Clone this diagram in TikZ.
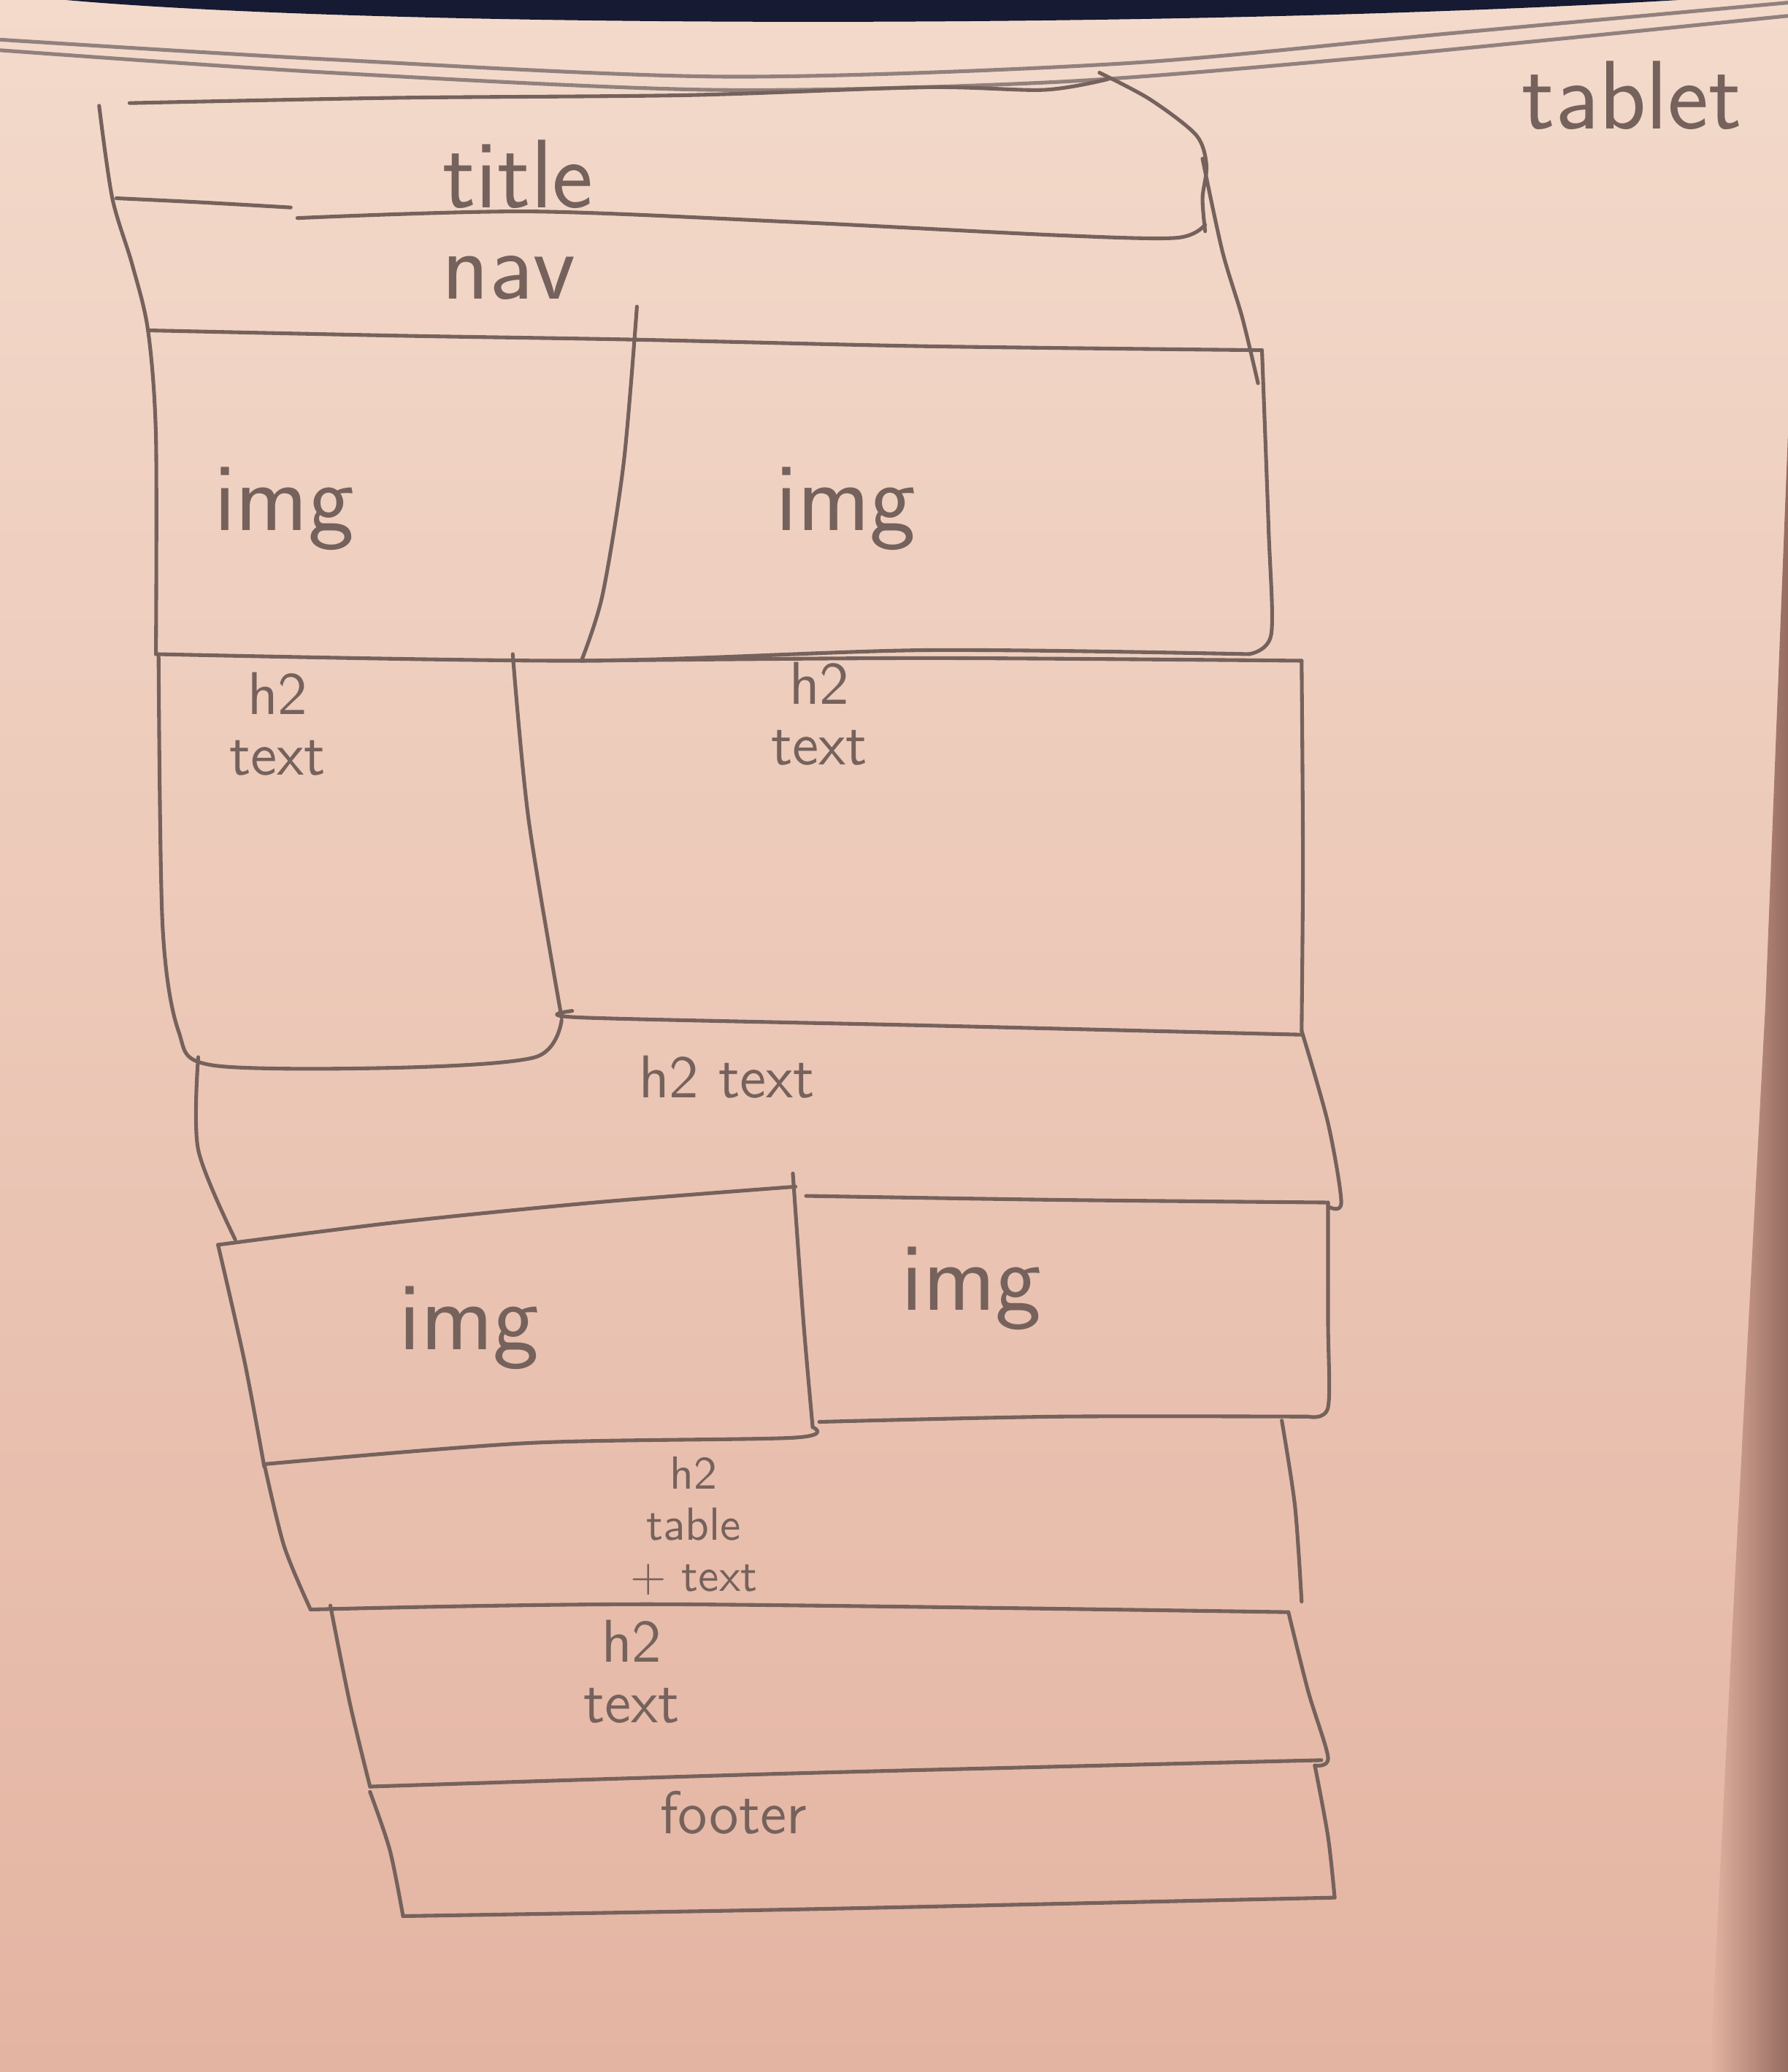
\documentclass[tikz,border=0pt]{standalone}
\usetikzlibrary{calc}
\definecolor{paperlight}{RGB}{243,218,203}
\definecolor{paperdark}{RGB}{228,180,162}
\definecolor{pencilgrey}{RGB}{118,98,92}
\definecolor{nightblue}{RGB}{22,26,50}
\definecolor{pageshadow}{RGB}{150,108,96}
\tikzstyle{pencil}=[draw=pencilgrey,line width=0.8pt,line cap=round,line join=round]
\tikzstyle{pagefold}=[draw=pencilgrey!80,line width=0.8pt]
\tikzstyle{scribble}=[text=pencilgrey,font=\sffamily,align=center,inner sep=1pt]
\tikzstyle{bigscribble}=[scribble,font=\sffamily\fontsize{21}{23}\selectfont]
\tikzstyle{smallscribble}=[scribble,font=\sffamily\fontsize{13}{13}\selectfont]
\begin{document}
\begin{tikzpicture}[x=0.1mm,y=-0.1mm]
    \useasboundingbox (0,0) rectangle (1353,1568);
    % The sheet of paper, the dark gap above it and the page edges on the right
    \shade[top color=paperlight,bottom color=paperdark] (0,0) rectangle (1353,1568);
    \fill[nightblue] (50,0) .. controls (300,22) and (900,22) .. (1270,0) -- cycle;
    \shade[left color=paperdark,right color=pageshadow] (1353,330) -- (1336,760) -- (1310,1250) -- (1294,1568) -- (1353,1568) -- cycle;
    \draw[pagefold] plot[smooth] coordinates {(0,30) (250,45) (550,58) (850,48) (1100,25) (1353,2)};
    \draw[pagefold] plot[smooth] coordinates {(0,38) (250,55) (540,68) (800,62) (1050,42) (1353,12)};

    % Outer frame: left edge, title, nav
    \draw[pencil] plot[smooth] coordinates {(75,80) (85,150) (100,200) (112,250) (118,330) (118,495)};
    \draw[pencil] plot[smooth] coordinates {(98,78) (300,74) (520,72) (700,66) (790,68) (838,60)};
    \draw[pencil] plot[smooth] coordinates {(832,55) (870,75) (905,102) (913,125) (910,150) (912,175)};
    \draw[pencil] plot[smooth] coordinates {(910,120) (925,190) (940,240) (952,290)};
    \draw[pencil] plot[smooth] coordinates {(88,150) (150,153) (220,157)};
    \draw[pencil] plot[smooth] coordinates {(225,165) (400,160) (600,168) (800,178) (890,180) (912,170)};
    \draw[pencil] plot[smooth] coordinates {(112,250) (300,254) (480,257) (700,262) (955,265)};

    % First image row
    \draw[pencil] plot[smooth] coordinates {(482,232) (472,350) (456,450) (440,500)};
    \draw[pencil] plot[smooth] coordinates {(955,265) (960,400) (962,480) (945,495)};
    \draw[pencil] plot[smooth] coordinates {(945,495) (700,492) (440,500) (118,495)};

    % Two text boxes
    \draw[pencil] plot[smooth] coordinates {(120,497) (123,700) (135,780) (160,806) (300,808) (405,800) (425,772)};
    \draw[pencil] plot[smooth] coordinates {(388,495) (400,620) (425,770)};
    \draw[pencil] plot[smooth] coordinates {(440,500) (700,498) (985,500)};
    \draw[pencil] plot[smooth] coordinates {(985,500) (986,650) (985,780)};
    \draw[pencil] plot[smooth] coordinates {(985,783) (700,776) (440,770) (433,765)};

    % Wide text row
    \draw[pencil] plot[smooth] coordinates {(150,800) (150,870) (178,938)};
    \draw[pencil] plot[smooth] coordinates {(985,780) (1005,850) (1015,910) (1005,913)};

    % Second image row
    \draw[pencil] plot[smooth] coordinates {(165,942) (300,925) (450,910) (602,898)};
    \draw[pencil] plot[smooth] coordinates {(600,888) (608,1000) (615,1080)};
    \draw[pencil] plot[smooth] coordinates {(610,905) (800,908) (1005,910)};
    \draw[pencil] plot[smooth] coordinates {(1005,910) (1005,1000) (1005,1065) (990,1072)};
    \draw[pencil] plot[smooth] coordinates {(990,1072) (800,1072) (620,1076)};
    \draw[pencil] plot[smooth] coordinates {(165,942) (185,1030) (200,1110)};
    \draw[pencil] plot[smooth] coordinates {(615,1080) (600,1088) (400,1092) (200,1108)};

    % Lower rows: table, text, footer
    \draw[pencil] plot[smooth] coordinates {(200,1108) (215,1170) (235,1218)};
    \draw[pencil] plot[smooth] coordinates {(970,1075) (980,1140) (985,1212)};
    \draw[pencil] plot[smooth] coordinates {(235,1218) (500,1214) (975,1220)};
    \draw[pencil] plot[smooth] coordinates {(250,1215) (265,1290) (280,1352)};
    \draw[pencil] plot[smooth] coordinates {(975,1220) (990,1280) (1005,1330) (995,1336)};
    \draw[pencil] plot[smooth] coordinates {(280,1352) (600,1342) (1000,1332)};
    \draw[pencil] plot[smooth] coordinates {(280,1356) (295,1400) (305,1450)};
    \draw[pencil] plot[smooth] coordinates {(995,1336) (1005,1390) (1010,1436)};
    \draw[pencil] plot[smooth] coordinates {(305,1450) (600,1445) (1010,1436)};

    % Labels
    \foreach \pos/\name/\txt in {{(392,132)/title/title}, {(385,210)/nav/nav},
                                 {(1235,72)/tablet/tablet}, {(215,385)/imgA/img},
                                 {(640,385)/imgB/img}, {(355,1005)/imgC/img},
                                 {(735,975)/imgD/img}}
        \node[bigscribble] (\name) at \pos {\txt};
    \foreach \pos/\name/\txt in {{(210,548)/textA/{h2\\text}}, {(620,540)/textB/{h2\\text}},
                                 {(550,815)/textC/{h2 text}}, {(478,1265)/textD/{h2\\text}},
                                 {(555,1372)/footer/footer}}
        \node[smallscribble] (\name) at \pos {\txt};
    \node[scribble,font=\sffamily\fontsize{10}{11}\selectfont] (tableA) at (525,1155) {h2\\table\\+ text};
\end{tikzpicture}
\end{document}
